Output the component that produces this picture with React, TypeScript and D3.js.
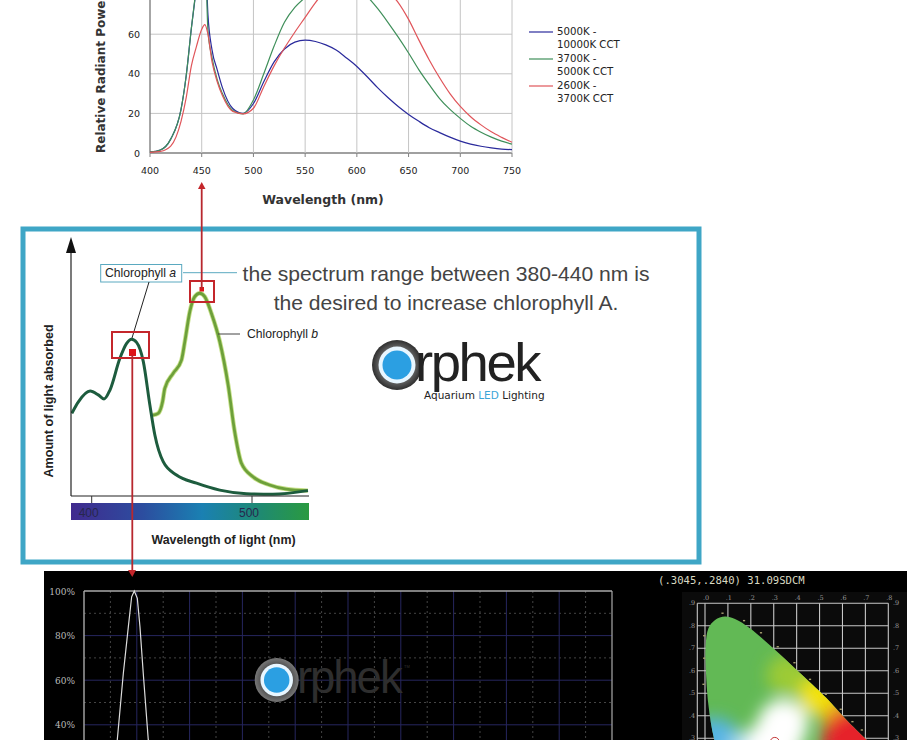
import * as d3 from "d3";

// top chart: relative radiant power
const nm = [400, 410, 420, 430, 435, 440, 445, 450, 453, 456, 460, 465, 470, 480, 490, 500, 510, 520, 530, 540, 550, 560, 570, 580, 590, 600, 610, 620, 630, 640, 650, 660, 670, 680, 690, 700, 710, 720, 730, 740, 750];
const cool = [0.5, 1.5, 7, 22, 39, 63, 84, 104, 106, 70, 52, 42, 33, 22.5, 20, 25, 36, 46, 52.5, 56, 57, 56.3, 54.6, 52, 48, 43.7, 38.5, 33, 28, 23.5, 19.5, 16, 12.8, 10.3, 8, 6, 4.5, 3.4, 2.6, 2, 1.7];
const neutral = [0.5, 1.5, 7, 22, 39, 63, 85, 105, 106, 62, 48, 37, 30, 21.5, 19.8, 26.8, 40, 54, 66, 73.5, 78.5, 82.5, 85, 86, 85.5, 83, 79, 73, 66, 58.5, 50.5, 42, 34.5, 27.5, 22, 17.5, 13.5, 10.5, 8, 6, 4.5];
const warm = [0.3, 0.8, 3.5, 16, 28, 44, 54, 62.5, 64.8, 60, 46, 36, 29, 21, 19.8, 22.6, 33.5, 44, 53, 61, 68.5, 76, 82, 86, 88.5, 89, 88, 85.5, 81.5, 76, 67.5, 57, 47, 38, 30, 23.5, 18.3, 14.2, 10.7, 7.9, 5.4];
const powerTicks = [0, 20, 40, 60, 80, 100];
const nmTicks = [400, 450, 500, 550, 600, 650, 700, 750];
const seriesNames = [["5000K -", "10000K CCT"], ["3700K -", "5000K CCT"], ["2600K -", "3700K CCT"]];
const seriesColors = ["#2a2a9c", "#3f8f5a", "#e0555a"];

// middle chart: chlorophyll absorption
const chlAnm = [387.6, 391.7, 399, 404.1, 407.7, 411.4, 417.6, 421.8, 424.9, 428, 432.2, 436.3, 439.4, 444.6, 452.9, 465.4, 479.9, 496.5, 513, 534.9];
const chlA = [32.3, 36.8, 41, 39.5, 37.9, 41.4, 53.8, 59.6, 61.2, 60, 52.5, 35.5, 23.8, 13.4, 8.2, 5, 2.3, 0.9, 0.7, 2.1];
const chlBnm = [438, 441.5, 444.2, 445.6, 450.8, 456, 458.1, 461.2, 464.3, 467.4, 470.5, 474.7, 479.9, 485.1, 489.2, 493.4, 500.6, 511, 521.4, 534.9];
const chlB = [31.6, 32.3, 36.8, 42, 47.9, 53.1, 60.3, 72, 77.9, 79.2, 77.9, 71.3, 60.3, 43.4, 25.1, 12.8, 7.5, 4.3, 2.7, 2.1];
const lightTicks = [400, 500];

// bottom left: measured spectrum
const specNm = [400, 405.2, 409.8, 413.6, 416.1, 418.1, 420.4, 422.4, 424.9, 428.7, 435];
const spec = [12, 33.2, 63.1, 84, 97.4, 100, 96.7, 84, 63, 33.2, 12];
const percentTicks = [100, 80, 60, 40];
const percentMinor = [90, 70, 50];
const specMajor = [420, 460, 500, 540, 580, 620, 660, 700, 740];
const specMinor = [400, 440, 480, 520, 560, 600, 640, 680, 720, 760];

// bottom right: CIE diagram
const locusX = [0.039, 0.015, 0.003, 0.003, 0.015, 0.044, 0.087, 0.131, 0.196, 0.298, 0.4, 0.531, 0.618, 0.698, 0.735, 0.17, 0.14, 0.07];
const locusY = [0.3, 0.448, 0.626, 0.715, 0.789, 0.826, 0.841, 0.83, 0.789, 0.7, 0.604, 0.478, 0.381, 0.3, 0.265, 0, 0.03, 0.2];
const markX = [0.076, 0.17, 0.244, 0.317, 0.39, 0.458, 0.527, 0.592, 0.643, 0.684, -0.004, -0.004, -0.007];
const markY = [0.856, 0.823, 0.769, 0.707, 0.636, 0.562, 0.496, 0.429, 0.374, 0.337, 0.756, 0.656, 0.54];
const cieX = [0, 0.1, 0.2, 0.3, 0.4, 0.5, 0.6, 0.7, 0.8];
const cieY = [0.9, 0.8, 0.7, 0.6, 0.5, 0.4, 0.3];
const blobs: [number, number, number, string][] = [
  [0.36, 0.58, 0.09, "#9ccb35"],
  [0.5, 0.49, 0.09, "#f2e20c"],
  [0.58, 0.39, 0.065, "#f4a212"],
  [0.64, 0.29, 0.13, "#e6232b"],
  [0.04, 0.27, 0.12, "#55b4e4"],
  [0.17, 0.26, 0.07, "#a9dcec"],
  [0.34, 0.36, 0.11, "#ffffff"],
  [0.3, 0.27, 0.12, "#ffffff"],
];
const whitePoint = [0.3045, 0.284];

const sans = "'Liberation Sans', Arial, sans-serif";
const verdana = "'DejaVu Sans', Verdana, sans-serif";

function Logo({ id, x, y, r, inner, outer, textX, textY, size, fill }: { id: string; x: number; y: number; r: number; inner: string; outer: string; textX: number; textY: number; size: number; fill: string }) {
  return (
    <g>
      <radialGradient id={id}>
        <stop offset="0.6" stopColor={inner} />
        <stop offset="1" stopColor={outer} />
      </radialGradient>
      <circle cx={x} cy={y} r={r} fill={`url(#${id})`} />
      <circle cx={x} cy={y} r={r * 0.74} fill="#e8f6ff" />
      <circle cx={x} cy={y} r={r * 0.58} fill="#2b9fe2" />
      <text x={textX} y={textY} fontFamily={sans} fontSize={size} letterSpacing={-size * 0.045} fill={fill}>
        rphek
      </text>
    </g>
  );
}

export default function App() {
  const x = d3.scaleLinear().domain([400, 750]).range([150, 512]);
  const y = d3.scaleLinear().domain([0, 100]).range([153, -45]);
  const power = d3.line<number>().x((_, i) => x(nm[i])).y((d) => y(d)).curve(d3.curveMonotoneX);

  const lx = d3.scaleLinear().domain([400, 500]).range([91.7, 252]);
  const ly = d3.scaleLinear().domain([0, 100]).range([496, 240]);
  const chlALine = d3.line<number>().x((_, i) => lx(chlAnm[i])).y((d) => ly(d)).curve(d3.curveMonotoneX);
  const chlBLine = d3.line<number>().x((_, i) => lx(chlBnm[i])).y((d) => ly(d)).curve(d3.curveMonotoneX);

  const sx = d3.scaleLinear().domain([380, 780]).range([84, 612]);
  const sy = d3.scaleLinear().domain([0, 100]).range([814, 591]);
  const specLine = d3.line<number>().x((_, i) => sx(specNm[i])).y((d) => sy(d));

  const cx = d3.scaleLinear().domain([0, 0.8]).range([705, 888.3]);
  const cy = d3.scaleLinear().domain([0.9, 0.3]).range([603.3, 738.3]);
  const locus = d3.line<number>().x((d) => cx(d)).y((_, i) => cy(locusY[i])).curve(d3.curveCatmullRomClosed);

  return (
    <svg width={922} height={740} viewBox="0 0 922 740" style={{ position: "absolute", left: 0, top: 0, background: "#fff" }}>
      <defs>
        <linearGradient id="lightBar">
          <stop offset="0" stopColor="#402a8e" />
          <stop offset="0.3" stopColor="#2c4d9f" />
          <stop offset="0.55" stopColor="#1a80b2" />
          <stop offset="0.8" stopColor="#1f8a70" />
          <stop offset="1" stopColor="#2a9a40" />
        </linearGradient>
        <clipPath id="locusClip">
          <path d={locus(locusX) ?? ""} />
        </clipPath>
        <clipPath id="lightClip">
          <rect x={71} y={240} width={238} height={262} />
        </clipPath>
        <filter id="soft" x="-60%" y="-60%" width="220%" height="220%">
          <feGaussianBlur stdDeviation={8} />
        </filter>
      </defs>

      {/* top chart */}
      {powerTicks.map((t) => (
        <line key={t} x1={150} x2={512} y1={y(t)} y2={y(t)} stroke={t === 0 ? "#808080" : "#c4c4c4"} strokeWidth={t === 0 ? 1.4 : 1} />
      ))}
      {nmTicks.map((t) => (
        <g key={t}>
          {t > 400 && <line x1={x(t)} x2={x(t)} y1={y(100)} y2={153} stroke="#c4c4c4" />}
          <line x1={x(t)} x2={x(t)} y1={153} y2={157} stroke="#808080" />
          <text x={x(t)} y={174} textAnchor="middle" fontFamily={verdana} fontSize={9.5} fill="#222">
            {t}
          </text>
        </g>
      ))}
      <line x1={150} x2={150} y1={y(100)} y2={153} stroke="#808080" strokeWidth={1.4} />
      {powerTicks.map((t) => (
        <text key={t} x={140} y={y(t) + 3.5} textAnchor="end" fontFamily={verdana} fontSize={9.5} fill="#222">
          {t}
        </text>
      ))}
      {[cool, neutral, warm].map((s, i) => (
        <path key={i} d={power(s) ?? ""} fill="none" stroke={seriesColors[i]} strokeWidth={1.2} />
      ))}
      <text transform="translate(105,153) rotate(-90)" fontFamily={verdana} fontSize={12} fontWeight="bold" fill="#333">
        Relative Radiant Power
      </text>
      <text x={323} y={204} textAnchor="middle" fontFamily={verdana} fontSize={12.5} fontWeight="bold" fill="#333">
        Wavelength (nm)
      </text>
      {seriesNames.map((lines, i) => (
        <g key={i} transform={`translate(0,${i * 27})`}>
          <line x1={529} x2={553} y1={32} y2={32} stroke={seriesColors[i]} strokeWidth={1.2} />
          <text x={557} y={35} fontFamily={verdana} fontSize={10.2} fill="#222">
            {lines[0]}
          </text>
          <text x={557} y={48} fontFamily={verdana} fontSize={10.2} fill="#222">
            {lines[1]}
          </text>
        </g>
      ))}

      {/* middle frame */}
      <rect x={23} y={229} width={676} height={333} fill="#fff" stroke="#3fa6c6" strokeWidth={5} />
      <g clipPath="url(#lightClip)">
        <path d={chlBLine(chlB) ?? ""} fill="none" stroke="#c6e08a" strokeWidth={4.5} />
        <path d={chlBLine(chlB) ?? ""} fill="none" stroke="#6da03a" strokeWidth={2.8} />
        <path d={chlALine(chlA) ?? ""} fill="none" stroke="#1d5c3e" strokeWidth={3} />
      </g>
      <line x1={71} x2={71} y1={250} y2={496} stroke="#222" strokeWidth={1.2} />
      <path d={d3.line()([[71, 237], [66, 253], [76, 253]]) + "Z"} fill="#111" />
      <line x1={71} x2={309} y1={496} y2={496} stroke="#222" strokeWidth={1.2} />
      <rect x={71} y={503} width={238} height={17} fill="url(#lightBar)" />
      {lightTicks.map((t) => (
        <g key={t}>
          <line x1={lx(t)} x2={lx(t)} y1={496} y2={503} stroke="#333" />
          <text x={lx(t) - 3} y={517} textAnchor="middle" fontFamily={sans} fontSize={12} fill="#27274d">
            {t}
          </text>
        </g>
      ))}
      <text transform="translate(53,401) rotate(-90)" textAnchor="middle" fontFamily={sans} fontSize={12.6} fontWeight="bold" fill="#222">
        Amount of light absorbed
      </text>
      <text x={223.5} y={544} textAnchor="middle" fontFamily={sans} fontSize={12.4} fontWeight="bold" fill="#222">
        Wavelength of light (nm)
      </text>
      <rect x={100.7} y={264.5} width={81} height={17.5} fill="#fff" stroke="#5aa9c0" />
      <text x={105} y={277} fontFamily={sans} fontSize={12.2} fill="#222">
        Chlorophyll <tspan fontStyle="italic">a</tspan>
      </text>
      <line x1={183} x2={237} y1={272.7} y2={272.7} stroke="#5aa9c0" />
      <line x1={149} x2={132} y1={282} y2={338} stroke="#222" />
      <line x1={218} x2={240} y1={334} y2={334} stroke="#444" />
      <text x={247} y={338} fontFamily={sans} fontSize={12.2} fill="#222">
        Chlorophyll <tspan fontStyle="italic">b</tspan>
      </text>
      <text x={446} y={281} textAnchor="middle" fontFamily={sans} fontSize={21.1} fill="#444">
        the spectrum range between 380-440 nm is
      </text>
      <text x={446} y={310} textAnchor="middle" fontFamily={sans} fontSize={21.1} fill="#444">
        the desired to increase chlorophyll A.
      </text>
      <Logo id="ringTop" x={397} y={365} r={25} inner="#777" outer="#2e2e2e" textX={415} textY={381} size={54.5} fill="#222" />
      <text x={424} y={399} fontFamily={verdana} fontSize={10.5} fill="#222">
        Aquarium <tspan fill="#3aa5d8">LED</tspan> Lighting
      </text>

      {/* bottom panel */}
      <rect x={44} y={571} width={863} height={169} fill="#000" />
      {percentMinor.map((t) => (
        <line key={t} x1={84} x2={612} y1={sy(t)} y2={sy(t)} stroke="#555" strokeDasharray="2 3" strokeWidth={0.8} />
      ))}
      {specMinor.map((t) => (
        <line key={t} x1={sx(t)} x2={sx(t)} y1={591} y2={740} stroke="#555" strokeDasharray="2 3" strokeWidth={0.8} />
      ))}
      {specMajor.map((t) => (
        <line key={t} x1={sx(t)} x2={sx(t)} y1={591} y2={740} stroke="#26265e" />
      ))}
      {percentTicks.map((t) => (
        <g key={t}>
          <line x1={84} x2={612} y1={sy(t)} y2={sy(t)} stroke={t === 100 ? "#aaa" : "#26265e"} strokeWidth={t === 100 ? 1.4 : 1} />
          <text x={75} y={sy(t) + 3.5} textAnchor="end" fontFamily="'DejaVu Serif', serif" fontSize={9} fill="#bbb">
            {t}%
          </text>
        </g>
      ))}
      <line x1={84} x2={84} y1={591} y2={740} stroke="#aaa" strokeWidth={1.4} />
      <line x1={612} x2={612} y1={591} y2={740} stroke="#aaa" strokeWidth={1.2} />
      <Logo id="ringBottom" x={276.7} y={680} r={22} inner="#444" outer="#777" textX={297} textY={693} size={45.5} fill="#2e2e2e" />
      <path d={specLine(spec) ?? ""} fill="none" stroke="#ddd" strokeWidth={1.2} />
      <text x={404} y={668} fontFamily={sans} fontSize={4} fill="#333">TM</text>

      {/* chromaticity */}
      <rect x={682} y={592} width={225} height={148} fill="#0b0b0b" />
      <text x={658} y={584} fontFamily="'DejaVu Sans Mono', monospace" fontSize={10.6} fill="#d9d9c0">
        (.3045,.2840) 31.09SDCM
      </text>
      {cieX.map((t) => (
        <g key={t}>
          <line x1={cx(t)} x2={cx(t)} y1={603.3} y2={740} stroke="#c8c8c8" strokeWidth={1.1} />
          <text x={cx(t) + 1} y={600} textAnchor="middle" fontFamily="'DejaVu Serif', serif" fontSize={6.5} fill="#999">
            {d3.format(".1f")(t).slice(1)}
          </text>
        </g>
      ))}
      <line x1={697.3} x2={697.3} y1={603.3} y2={740} stroke="#c8c8c8" strokeWidth={1.1} />
      {cieY.map((t) => (
        <g key={t}>
          <line x1={697.3} x2={888.3} y1={cy(t)} y2={cy(t)} stroke="#c8c8c8" strokeWidth={1.1} />
          <text x={692} y={cy(t) + 2} textAnchor="middle" fontFamily="'DejaVu Serif', serif" fontSize={6.5} fill="#999">
            {d3.format(".1f")(t).slice(1)}
          </text>
          <text x={896} y={cy(t) + 2} textAnchor="middle" fontFamily="'DejaVu Serif', serif" fontSize={6.5} fill="#999">
            {d3.format(".1f")(t).slice(1)}
          </text>
        </g>
      ))}
      {markX.map((m, i) => (
        <rect key={i} x={cx(m) - 1} y={cy(markY[i]) - 0.7} width={2.2} height={1.4} fill="#a8a070" />
      ))}
      <g clipPath="url(#locusClip)">
        <rect x={690} y={600} width={210} height={140} fill="#62b955" />
        <g filter="url(#soft)">
          {blobs.map(([bx, by, br, color], i) => (
            <circle key={i} cx={cx(bx)} cy={cy(by)} r={cx(br) - cx(0)} fill={color} />
          ))}
        </g>
      </g>
      <circle cx={cx(whitePoint[0])} cy={cy(whitePoint[1])} r={4.5} fill="#fff" stroke="#b22" strokeWidth={0.9} />

      {/* red markers */}
      <rect x={112} y={332} width={37} height={26} fill="none" stroke="#c4262b" strokeWidth={2} />
      <rect x={190} y={281} width={24} height={21} fill="none" stroke="#c4262b" strokeWidth={2} />
      <rect x={129} y={349} width={7} height={7} fill="#dd1418" />
      <rect x={199.5} y={287} width={4.5} height={4.5} fill="#dd1418" />
      <line x1={132.3} x2={132.3} y1={355} y2={572} stroke="#b8282e" strokeWidth={1.8} />
      <path d="M128,570 L136,570 L132.3,577 Z" fill="#c4262b" />
      <line x1={201.7} x2={201.7} y1={289} y2={186} stroke="#b8282e" strokeWidth={1.8} />
      <path d="M198,189 L205.5,189 L201.7,182 Z" fill="#c4262b" />
    </svg>
  );
}
